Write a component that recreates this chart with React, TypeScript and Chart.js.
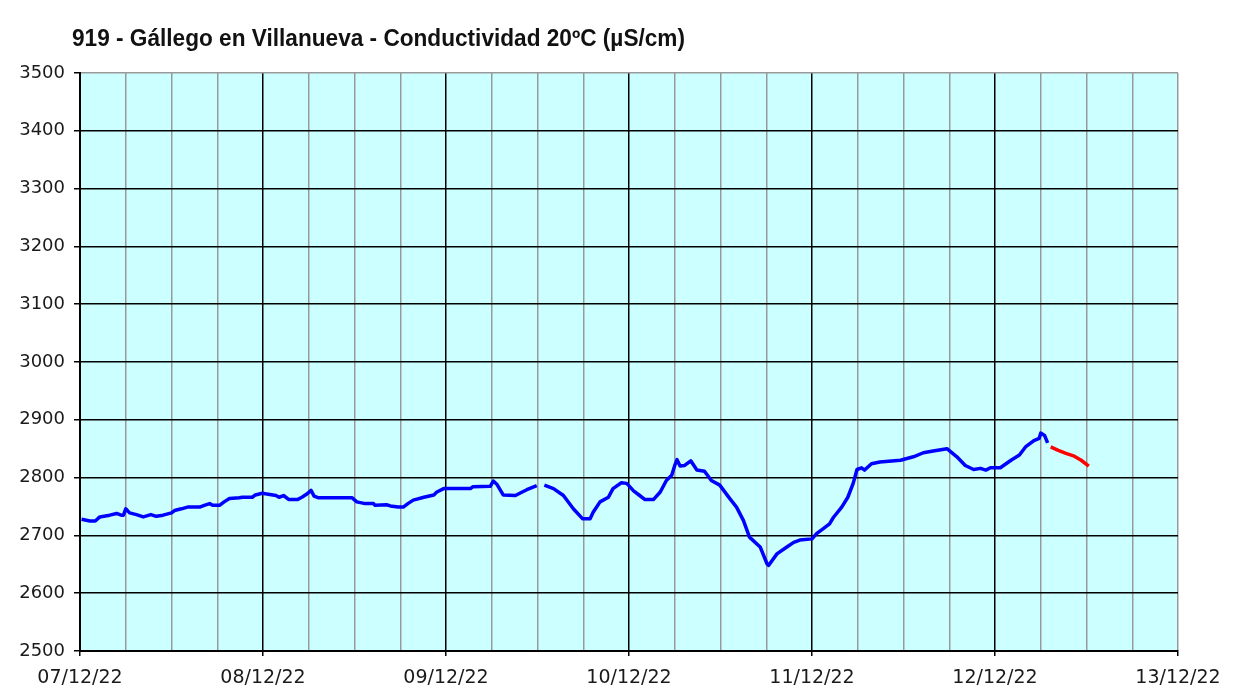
import React, { useEffect, useRef } from "react";
import { Chart, registerables } from "chart.js";

Chart.register(...registerables);

const TITLE = "919 - Gállego en Villanueva - Conductividad 20ºC (µS/cm)";
const DAY_LABELS = ["07/12/22", "08/12/22", "09/12/22", "10/12/22", "11/12/22", "12/12/22", "13/12/22"];

// hours since 07/12/22 00:00
const blueHours = [
  0.2, 1.3, 2.0, 2.6, 3.9, 4.8, 5.4, 5.7, 6.0, 6.5, 7.4, 8.3, 9.3, 10.0, 10.9, 12.0, 12.4, 13.3, 14.1, 15.7,
  16.3, 17.0, 17.4, 18.3, 18.9, 19.6, 20.9, 21.3, 22.6, 23.0, 23.9, 24.3, 25.7, 26.1, 26.7, 27.4, 28.5, 29.1,
  29.8, 30.3, 30.7, 31.3, 35.7, 36.3, 37.4, 38.5, 38.7, 40.2, 40.7, 41.7, 42.4, 43.0, 43.7, 45.1, 46.4, 46.8,
  47.7, 51.2, 51.5, 53.8, 54.2, 54.7, 55.5, 57.1, 58.0, 58.6, 59.9, 60.4, 60.9, 62.1, 63.4, 64.7, 65.9, 66.9,
  67.3, 68.2, 69.3, 69.9, 71.0, 71.7, 72.6, 73.4, 74.1, 75.2, 76.1, 76.9, 77.6, 78.0, 78.3, 78.7, 79.3, 80.1,
  80.9, 81.9, 82.8, 83.9, 85.2, 86.1, 87.0, 87.8, 89.2, 90.1, 90.3, 91.4, 92.7, 93.6, 94.4, 96.0, 96.6, 97.4,
  98.3, 98.8, 99.9, 100.7, 101.4, 101.9, 102.5, 102.9, 103.8, 104.9, 107.6, 109.3, 110.6, 111.9, 113.7, 115.0,
  116.1, 117.2, 118.1, 118.8, 119.4, 120.7, 122.1, 123.2, 124.0, 125.1, 125.8, 126.0, 126.5, 126.9,
];
const blueValues: (number | null)[] = [
  2728, 2725, 2725, 2732, 2735, 2738, 2735, 2735, 2746, 2739, 2736, 2732, 2736, 2733, 2735, 2739, 2743, 2746, 2749, 2749,
  2752, 2755, 2752, 2752, 2758, 2764, 2765, 2766, 2766, 2770, 2773, 2772, 2769, 2766, 2769, 2762, 2762, 2766,
  2772, 2778, 2768, 2765, 2765, 2758, 2755, 2755, 2752, 2753, 2751, 2749, 2749, 2755, 2761, 2766, 2770, 2775,
  2781, 2781, 2784, 2785, 2794, 2788, 2770, 2769, 2775, 2779, 2786, null, 2787, 2781, 2769, 2746, 2729, 2729,
  2740, 2758, 2766, 2781, 2791, 2790, 2777, 2769, 2762, 2762, 2775, 2795, 2804, 2821, 2831, 2820, 2821, 2829,
  2813, 2811, 2795, 2787, 2764, 2749, 2726, 2697, 2680, 2651, 2648, 2668, 2680, 2688, 2692, 2694, 2703, 2711,
  2720, 2731, 2749, 2766, 2790, 2814, 2817, 2813, 2824, 2827, 2830, 2836, 2843, 2846, 2850, 2836,
  2821, 2814, 2816, 2813, 2817, 2817, 2830, 2839, 2853, 2864, 2868, 2877, 2873, 2860,
];
const redHours = [127.3, 128.3, 129.3, 130.4, 131.3, 132.3];
const redValues = [2853, 2847, 2842, 2837, 2830, 2820];

const Y_MIN = 2500;
const Y_MAX = 3500;
const Y_STEP = 100;
const X_MAX = 144;

export default function App() {
  const ref = useRef<HTMLCanvasElement | null>(null);

  useEffect(() => {
    if (!ref.current) return;
    const bgPlugin = {
      id: "bg",
      beforeDraw(chart: any) {
        const { ctx, chartArea } = chart;
        ctx.save();
        ctx.fillStyle = "#ffffff";
        ctx.fillRect(0, 0, chart.width, chart.height);
        ctx.fillStyle = "#CCFFFF";
        ctx.fillRect(chartArea.left, chartArea.top, chartArea.right - chartArea.left, chartArea.bottom - chartArea.top);
        ctx.restore();
      },
      afterDraw(chart: any) {
        const { ctx } = chart;
        ctx.save();
        ctx.fillStyle = "#111111";
        ctx.font = 'bold 23px "Liberation Sans", Arial, sans-serif';
        ctx.textBaseline = "alphabetic";
        ctx.textAlign = "left";
        ctx.fillText(TITLE, 72, 46, 613);
        ctx.restore();
      },
    };

    const chart = new Chart(ref.current, {
      type: "line",
      data: {
        datasets: [
          {
            data: blueHours.map((h, i) => ({ x: h, y: blueValues[i] as any })),
            borderColor: "#0000FF",
            borderWidth: 3.5,
            pointRadius: 0,
            tension: 0,
            spanGaps: false,
            borderJoinStyle: "round",
          },
          {
            data: redHours.map((h, i) => ({ x: h, y: redValues[i] })),
            borderColor: "#FF0000",
            borderWidth: 3.5,
            pointRadius: 0,
            tension: 0,
            borderJoinStyle: "round",
          },
        ],
      },
      plugins: [bgPlugin],
      options: {
        animation: false,
        responsive: false,
        devicePixelRatio: 1,
        layout: { padding: { left: 0, top: 73, right: 60, bottom: 0 } },
        plugins: { legend: { display: false }, title: { display: false }, tooltip: { enabled: false } },
        scales: {
          x: {
            type: "linear",
            min: 0,
            max: X_MAX,
            afterFit: (s: any) => {
              s.height = 39;
            },
            ticks: {
              stepSize: 6,
              autoSkip: false,
              maxRotation: 0,
              padding: 11,
              color: "#1a1a1a",
              font: { family: '"DejaVu Sans", Verdana, sans-serif', size: 19 },
              callback: (v: any) => (Number(v) % 24 === 0 ? DAY_LABELS[Number(v) / 24] : ""),
            },
            grid: {
              color: (c: any) => (c.tick && c.tick.value % 24 === 0 && c.tick.value < X_MAX ? "#000000" : "#999999"),
              tickColor: (c: any) => (c.tick && c.tick.value % 24 === 0 ? "#000000" : "rgba(0,0,0,0)"),
              tickLength: 5,
              lineWidth: 1.5,
            },
            border: { display: true, color: "#000000", width: 2 },
          },
          y: {
            min: Y_MIN,
            max: Y_MAX,
            afterFit: (s: any) => {
              s.width = 80;
            },
            ticks: {
              stepSize: Y_STEP,
              padding: 9,
              color: "#1a1a1a",
              font: { family: '"DejaVu Sans", Verdana, sans-serif', size: 18 },
              callback: (v: any) => String(v),
            },
            grid: {
              color: (c: any) => (c.tick && c.tick.value === Y_MAX ? "#999999" : "#000000"),
              tickColor: "#000000",
              tickLength: 6,
              lineWidth: 1.5,
            },
            border: { display: true, color: "#000000", width: 2 },
          },
        },
      },
    });
    return () => chart.destroy();
  }, []);

  return (
    <div style={{ position: "fixed", left: 0, top: 0, width: 1238, height: 690, background: "#fff" }}>
      <canvas ref={ref} width={1238} height={690} style={{ width: 1238, height: 690, display: "block" }} />
    </div>
  );
}
